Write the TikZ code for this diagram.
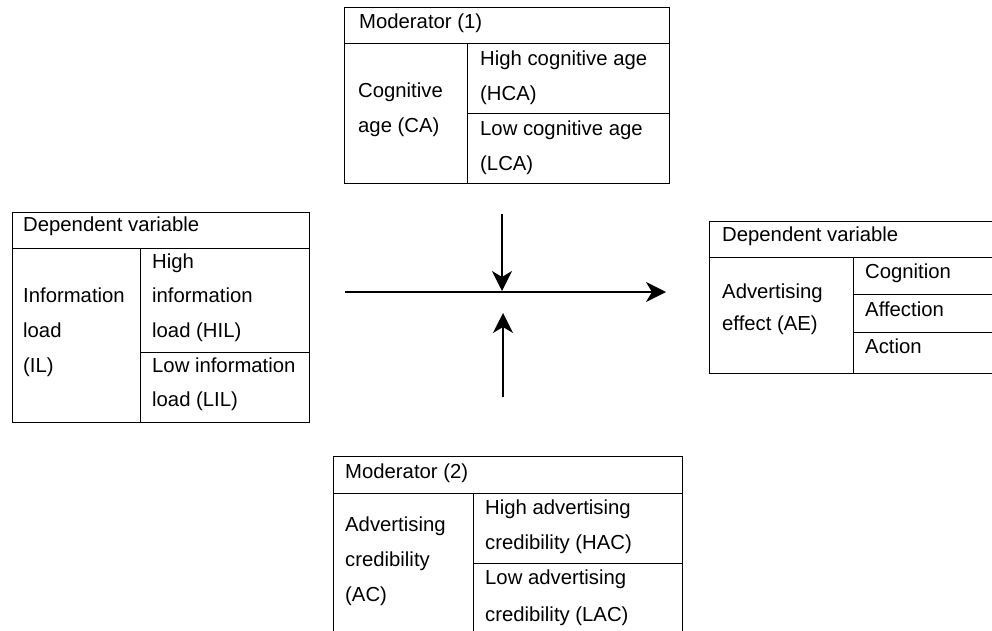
\documentclass[tikz,border=0pt]{standalone}
\usepackage{fontspec}
\setmainfont{Liberation Sans}
\usetikzlibrary{arrows.meta}
\begin{document}
\begin{tikzpicture}[x=1pt,y=-1pt,
  txt/.style={anchor=base west,inner sep=0pt,font=\fontsize{20.3}{24}\selectfont},
  tbl/.style={line width=1pt,line cap=rect},
  arr/.style={line width=1.6pt,-{Stealth[length=20pt,width=20pt,inset=6pt]}}]
\useasboundingbox (0,0) rectangle (992,630);
\clip (0,0) rectangle (992,630);
% ---- top table (Moderator 1)
\draw[tbl] (344,7) rectangle (669,183);
\draw[tbl] (344,43) -- (669,43);
\draw[tbl] (467,43) -- (467,183);
\draw[tbl] (467,113) -- (669,113);
\node[txt] (m1) at (359,28) {Moderator (1)};
\node[txt] (ca1) at (358,97) {Cognitive};
\node[txt] (ca2) at (358,132) {age (CA)};
\node[txt] (hca1) at (480,65) {High cognitive age};
\node[txt] (hca2) at (480,100) {(HCA)};
\node[txt] (lca1) at (480,135) {Low cognitive age};
\node[txt] (lca2) at (480,170) {(LCA)};
% ---- left table (Information load)
\draw[tbl] (12,212) rectangle (309,422);
\draw[tbl] (12,248) -- (309,248);
\draw[tbl] (140,248) -- (140,422);
\draw[tbl] (140,352) -- (309,352);
\node[txt] (dv1) at (23,231) {Dependent variable};
\node[txt] (il1) at (23,302) {Information};
\node[txt] (il2) at (23,337) {load};
\node[txt] (il3) at (23,372) {(IL)};
\node[txt] (hil1) at (152,268) {High};
\node[txt] (hil2) at (152,302) {information};
\node[txt] (hil3) at (152,337) {load (HIL)};
\node[txt] (lil1) at (152,372) {Low information};
\node[txt] (lil2) at (152,406) {load (LIL)};
% ---- right table (Advertising effect)
\draw[tbl] (1000,221) -- (709,221) -- (709,373) -- (1000,373);
\draw[tbl] (709,257) -- (1000,257);
\draw[tbl] (853,257) -- (853,373);
\draw[tbl] (853,294) -- (1000,294);
\draw[tbl] (853,332) -- (1000,332);
\node[txt] (dv2) at (722,241) {Dependent variable};
\node[txt] (ae1) at (722,298) {Advertising};
\node[txt] (ae2) at (722,330) {effect (AE)};
\node[txt] (cog) at (865,278) {Cognition};
\node[txt] (aff) at (865,316) {Affection};
\node[txt] (act) at (865,353) {Action};
% ---- bottom table (Moderator 2)
\draw[tbl] (333,640) -- (333,456) -- (682,456) -- (682,640);
\draw[tbl] (333,493) -- (682,493);
\draw[tbl] (473,493) -- (473,640);
\draw[tbl] (473,563) -- (682,563);
\node[txt] (m2) at (345,478) {Moderator (2)};
\node[txt] (ac1) at (345,531) {Advertising};
\node[txt] (ac2) at (345,566) {credibility};
\node[txt] (ac3) at (345,601) {(AC)};
\node[txt] (hac1) at (485,514) {High advertising};
\node[txt] (hac2) at (485,549) {credibility (HAC)};
\node[txt] (lac1) at (485,584) {Low advertising};
\node[txt] (lac2) at (485,621) {credibility (LAC)};
% ---- arrows
\coordinate (hs) at (345,292);
\coordinate (he) at (666,292);
\coordinate (ds) at (502,214);
\coordinate (de) at (502,291);
\coordinate (us) at (503,397);
\coordinate (ue) at (503,313);
\draw[arr] (hs) -- (he);
\draw[arr] (ds) -- (de);
\draw[arr] (us) -- (ue);
\end{tikzpicture}
\end{document}
